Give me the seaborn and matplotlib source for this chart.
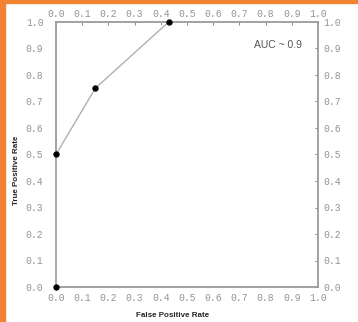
import numpy as np
import pandas as pd
import seaborn as sns
import matplotlib
matplotlib.use('Agg')
import matplotlib.pyplot as plt
import matplotlib.transforms as mtransforms
from matplotlib.patches import Rectangle

# ROC points
fpr = [0.0, 0.0, 0.15, 0.43]
tpr = [0.0, 0.5, 0.75, 1.0]
ticks = [0.0, 0.1, 0.2, 0.3, 0.4, 0.5, 0.6, 0.7, 0.8, 0.9, 1.0]
tick_labels = ['%.1f' % t for t in ticks]

df = pd.DataFrame({'fpr': fpr, 'tpr': tpr})

sns.set_style('white')
plt.rcParams['font.family'] = ['Liberation Sans', 'DejaVu Sans']

fig = plt.figure(figsize=(3.58, 3.22), dpi=100)
ax = fig.add_axes([56 / 358, 1 - 287 / 322, 262 / 358, 265 / 322])

sns.lineplot(data=df, x='fpr', y='tpr', sort=False, estimator=None, color='#b0b0b0',
             linewidth=1.0, marker='o', markersize=3.8, markerfacecolor='black',
             markeredgecolor='black', ax=ax, clip_on=False, zorder=3)

ax.set_xlim(0, 1)
ax.set_ylim(0, 1)
ax.set_xticks(ticks)
ax.set_yticks(ticks)
ax.set_xticklabels(tick_labels, family='Liberation Mono', fontsize=7, color='#949494')
ax.set_yticklabels(tick_labels, family='Liberation Mono', fontsize=7, color='#949494')
ax.tick_params(direction='in', length=2.5, width=0.7, color='#888888',
               top=True, right=True, labeltop=True, labelright=True, pad=4)
for s in ax.spines.values():
    s.set_color('#9a9a9a')
    s.set_linewidth(1.3)

# nudge the left and top tick labels to sit where the original has them
left_shift = mtransforms.ScaledTranslation(-7 / 100, 0, fig.dpi_scale_trans)
top_shift = mtransforms.ScaledTranslation(0, -3 / 100, fig.dpi_scale_trans)
for t in ax.yaxis.get_major_ticks():
    t.label1.set_transform(t.label1.get_transform() + left_shift)
for t in ax.xaxis.get_major_ticks():
    t.label2.set_transform(t.label2.get_transform() + top_shift)

ax.set_xlabel('False Positive Rate', fontsize=5.8, fontweight='bold')
ax.set_ylabel('True Positive Rate', fontsize=5.8, fontweight='bold')
ax.xaxis.set_label_coords(0.443, -0.095)
ax.yaxis.set_label_coords(-0.137, 0.44)
ax.text(0.755, 0.915, 'AUC ~ 0.9', fontsize=7.5, color='#555555', ha='left', va='center')

# orange frame on left and top edges
fig.patches.append(Rectangle((0, 0), 5 / 358, 1, transform=fig.transFigure,
                             color='#f08432', zorder=10))
fig.patches.append(Rectangle((0, 1 - 3 / 322), 1, 3 / 322, transform=fig.transFigure,
                             color='#f08432', zorder=10))

fig.savefig('out.png', dpi=100)
